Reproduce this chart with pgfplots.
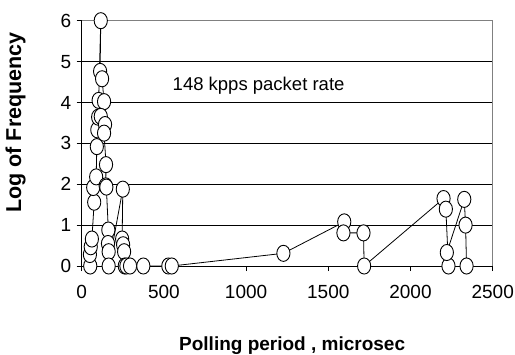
\documentclass[border=0pt]{standalone}
\usepackage{fontspec}
\setmainfont{Liberation Sans}
\usepackage{pgfplots}
\pgfplotsset{compat=1.18}
\newcommand\tickfont{\fontsize{19bp}{22bp}\selectfont}
\begin{document}
\begin{tikzpicture}
\useasboundingbox (-81.7bp,-89bp) rectangle (433.3bp,266bp);
\begin{axis}[
  scale only axis,
  width=411bp, height=245.3bp,
  xmin=0, xmax=2500, ymin=0, ymax=6,
  xtick={0,500,...,2500}, ytick={0,1,...,6},
  axis line style={draw=none},
  ymajorgrids, grid style={black, line width=0.6bp},
  tick style={black, line width=0.6bp},
  tick align=outside, major tick length=5bp,
  xtick pos=bottom, ytick pos=left,
  xticklabel={\tickfont\pgfmathprintnumber[assume math mode=true,1000 sep={}]{\tick}},
  yticklabel={\tickfont\pgfmathprintnumber[assume math mode=true]{\tick}},
  xticklabel style={yshift=-11bp},
  yticklabel style={xshift=-2bp},
  xlabel={Polling period , microsec},
  ylabel={Log of Frequency},
  xlabel style={font=\bfseries\fontsize{19bp}{22bp}\selectfont, at={(axis description cs:0.512,0)}, anchor=base, yshift=-84bp},
  ylabel style={font=\bfseries\fontsize{21.5bp}{24bp}\selectfont, at={(axis description cs:0,0.585)}, anchor=center, yshift=66bp},
  clip=false,
]
\draw[gray, line width=0.6bp] (rel axis cs:0,1) -- (rel axis cs:1,1) -- (rel axis cs:1,0);
\draw[black, line width=0.8bp] (rel axis cs:0,1) -- (rel axis cs:0,0) -- (rel axis cs:1,0);
\addplot[black, line width=0.8bp, mark=*, mark size=6.6bp,
  mark options={fill=white, draw=black, line width=0.9bp, yscale=1.22}]
coordinates {
(52,0) (50,0.28) (55,0.47) (62,0.66)
(76,1.56) (70,1.92) (88,2.18) (92,2.92) (95,3.33) (100,3.64) (103,4.05)
(116,6.0) (112,4.76) (124,4.58) (136,4.02) (116,3.66) (142,3.46) (136,3.25)
(148,2.48) (146,1.96) (150,1.93) (162,0.88) (160,0.55) (164,0.35) (164,0)
(250,1.88) (246,0.66) (252,0.52) (258,0.35) (262,0) (272,0) (294,0) (375,0)
(527,0) (548,0) (1227,0.31) (1597,1.08) (1592,0.81) (1714,0.81) (1718,0)
(2201,1.65) (2215,1.39) (2231,0) (2221,0.33) (2327,1.63) (2335,1.0) (2341,0)
};
\node[anchor=base, font=\fontsize{18.5bp}{21bp}\selectfont, inner sep=0pt] at (axis cs:1076,4.30) {148 kpps packet rate};
\end{axis}
\end{tikzpicture}
\end{document}
